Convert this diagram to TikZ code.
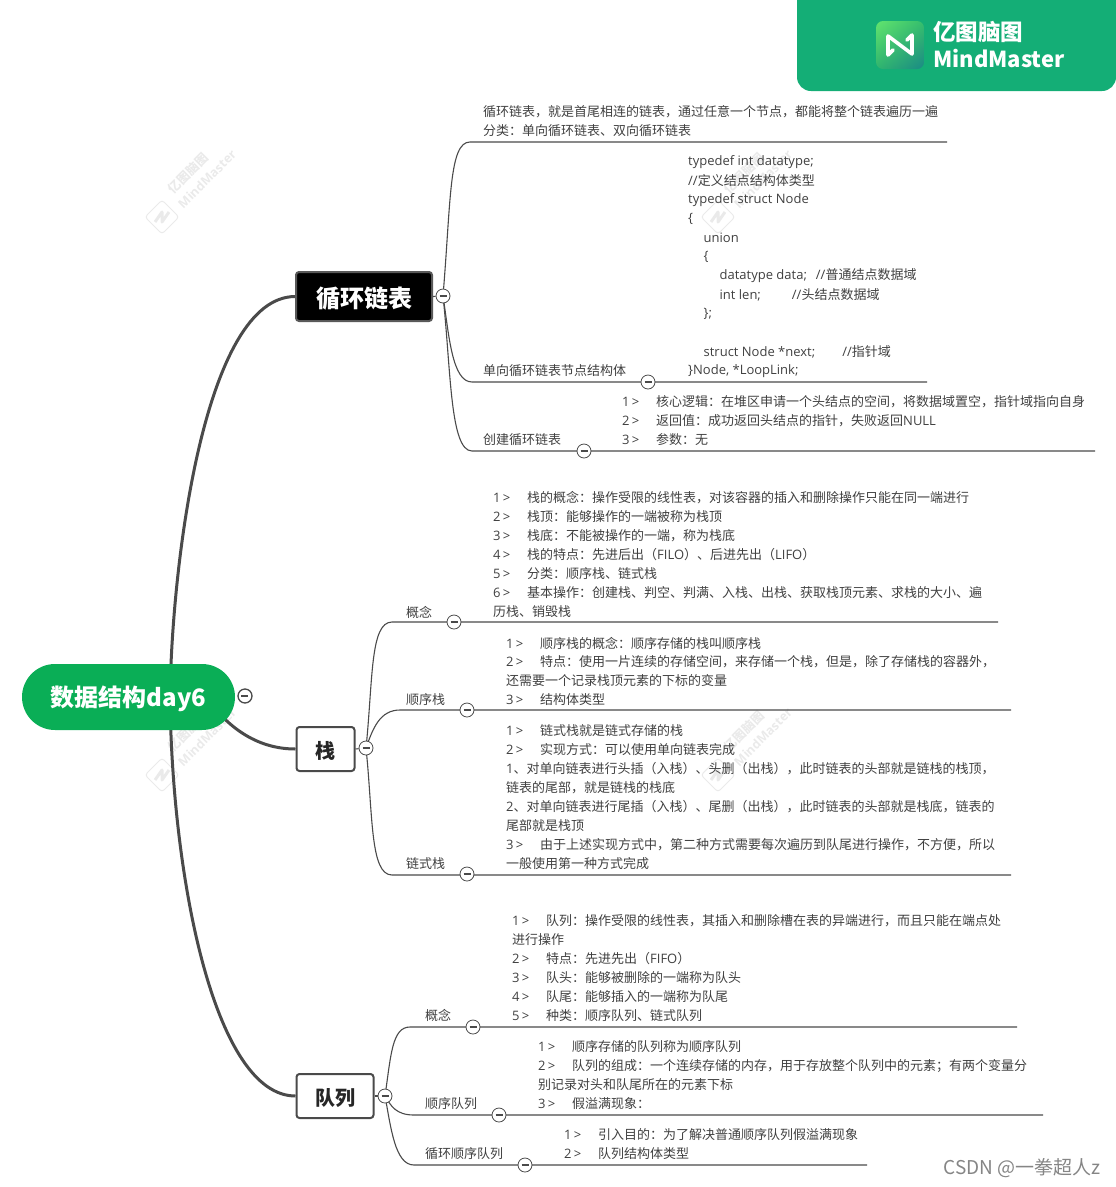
\documentclass[tikz,border=0pt]{standalone}
\usepackage{fontspec}
\usetikzlibrary{shadings}
\setmainfont{Open Sans}
\newfontfamily\cjk{Noto Sans CJK SC}
\newcommand{\cjkr}{\XeTeXinterchartokenstate=0\relax\cjk}
\newcommand{\cjkb}{\XeTeXinterchartokenstate=0\relax\cjk\bfseries}
\XeTeXinterchartokenstate=1
\newXeTeXintercharclass\cjkclass
\count255="2E80
\loop\ifnum\count255<"A000 \XeTeXcharclass\count255=\cjkclass \advance\count255 by 1 \repeat
\count255="FF00
\loop\ifnum\count255<"FFF0 \XeTeXcharclass\count255=\cjkclass \advance\count255 by 1 \repeat
\XeTeXinterchartoks 0 \cjkclass={\cjk}
\XeTeXinterchartoks 4095 \cjkclass={\cjk}
\XeTeXinterchartoks \cjkclass 0={\rmfamily}
\XeTeXinterchartoks \cjkclass 4095={\rmfamily}
\pgfdeclarelayer{bg}
\pgfsetlayers{bg,main}
\definecolor{inkc}{HTML}{404040}
\definecolor{linec}{HTML}{4A4A4A}
\definecolor{rootg}{HTML}{0AAE56}
\definecolor{panelg}{HTML}{14AE76}
\definecolor{wmc}{HTML}{EAEAEA}
\definecolor{icul}{HTML}{62E46E}
\definecolor{icur}{HTML}{35BE6C}
\definecolor{icll}{HTML}{2FB46E}
\definecolor{iclr}{HTML}{1A8A86}
\newcommand{\nm}[1]{\makebox[34pt][l]{#1\,>}}
\newcommand{\lowered}[2][2pt]{\raisebox{-#1}[\height][\depth]{#2}}
\tikzset{
  txt/.style={anchor=west,inner sep=0pt,yshift=-1pt,text=inkc,font=\fontsize{13}{19}\selectfont},
  thick link/.style={draw=linec,line width=3pt},
  thin link/.style={draw=linec,line width=1.1pt},
  btn/.style={circle,draw=linec,fill=white,line width=.8pt,minimum size=14pt,inner sep=0pt,
    path picture={\draw[line width=1.1pt,draw=linec] ([xshift=-3.5pt]path picture bounding box.center)--([xshift=3.5pt]path picture bounding box.center);}},
  topic/.style={rounded corners=3pt,draw=linec,line width=2pt,inner sep=0pt,fill=white,text=black!85,font=\fontsize{20}{24}\selectfont\cjkb},
  wmlogo/.style={draw=wmc,line width=1pt,rounded corners=3pt,minimum size=24pt,rotate=45,inner sep=0pt},
  wmtext/.style={text=wmc,inner sep=0pt,anchor=west,rotate=45,font=\fontsize{12.5}{14}\selectfont\bfseries},
}
\begin{document}
\begin{tikzpicture}[x=1pt,y=-1pt]
\useasboundingbox (0,0) rectangle (1116,1187);
% logo panel
\fill[panelg] (797,0) [rounded corners=14pt] -- (797,91) -- (1116,91) [sharp corners] -- (1116,0) -- cycle;
\shade[rounded corners=7pt,upper left=icul,upper right=icur,lower left=icll,lower right=iclr] (876,21) rectangle (924,69);
\draw[white,line width=3.6pt,line join=round,line cap=round] (893,50)--(888,55)--(888,36)--(912,54)--(912,35)--(907,40);
\node[inner sep=0pt,anchor=west,text=white,font=\fontsize{22.5}{24}\selectfont\cjkb] (brandcn) at (933,32) {亿图脑图};
\node[inner sep=0pt,anchor=west,text=white,font=\fontsize{22}{26}\selectfont\cjkb] (brand) at (933,59) {MindMaster};
% root and topics
\node[rounded corners=33pt,fill=rootg,minimum width=213pt,minimum height=66pt,inner sep=0pt,text=white,font=\fontsize{24}{28}\selectfont\cjkb] (root) at (128.5,697) {\lowered{数据结构day6}};
\node[circle,draw=linec,fill=white,line width=1.3pt,minimum size=14pt,inner sep=0pt] (rootbtn) at (245,696) {};
\draw[line width=1.8pt,draw=linec] (rootbtn.west)++(3.5,0)--++(7,0);
\node[topic,minimum width=136pt,minimum height=49pt,fill=black,text=white,draw=black!65,font=\fontsize{24}{28}\selectfont\cjkb] (loop) at (364,296.5) {\lowered{循环链表}};
\node[topic,minimum width=58pt,minimum height=44pt] (stack) at (325.5,749) {\lowered{栈}};
\node[topic,minimum width=77pt,minimum height=44pt] (queue) at (335,1096) {\lowered{队列}};
\coordinate (rj) at (170,697);
\coordinate (rk) at (205,695);
% buttons
\node[btn] (b0) at (443,296) {};
\node[btn] (b1) at (648,382) {};
\node[btn] (b2) at (584,451) {};
\node[btn] (s0) at (366,748) {};
\node[btn] (s1) at (454,622) {};
\node[btn] (s2) at (467,710) {};
\node[btn] (s3) at (467,874) {};
\node[btn] (q0) at (385,1096) {};
\node[btn] (q1) at (473,1027) {};
\node[btn] (q2) at (499,1115) {};
\node[btn] (q3) at (525,1165) {};
% line ends
\coordinate (ua) at (470,142); \coordinate (ea) at (947,142);
\coordinate (ub) at (472,382); \coordinate (eb) at (927,382);
\coordinate (uc) at (472,451); \coordinate (ec) at (1095,451);
\coordinate (ud) at (392,622); \coordinate (ed) at (998,622);
\coordinate (ue) at (400,710); \coordinate (ee) at (1011,710);
\coordinate (uf) at (392,875); \coordinate (ef) at (1011,875);
\coordinate (ug) at (410,1027); \coordinate (eg) at (1017,1027);
\coordinate (uh) at (414,1115); \coordinate (eh) at (1043,1115);
\coordinate (ui) at (414,1165); \coordinate (ei) at (867,1165);
\begin{pgfonlayer}{bg}
% watermarks
\foreach \wx/\wy/\wn in {0/0/p,556/0/q,0/558/r,556/558/s}{
  \begin{scope}[shift={(\wx,\wy)}]
  \node[wmlogo] (wl\wn) at (162,217) {};
  \draw[wmc,line width=3pt,line join=round] (155,222)--(162,212)--(162,222)--(169,212);
  \node[wmtext] (wa\wn) at (170,191) {亿图脑图};
  \node[wmtext] (wb\wn) at (180,206) {MindMaster};
  \end{scope}
}
\draw[thick link] (rj) .. controls (172,560) and (205,297) .. (loop.west);
\draw[thick link] (rj) .. controls (172,880) and (215,1096) .. (queue.west);
\draw[thick link] (rk) .. controls (225,725) and (255,749) .. (stack.west);
\draw[thin link] (loop.east)--(b0);
\draw[thin link] (stack.east)--(s0);
\draw[thin link] (queue.east)--(q0);
\draw[thin link] (b0.center) .. controls (451,200) and (449,142) .. (ua)--(ea);
\draw[thin link] (b0.center) .. controls (449,335) and (452,382) .. (ub)--(eb);
\draw[thin link] (b0.center) .. controls (451,370) and (450,451) .. (uc)--(ec);
\draw[thin link] (s0.center) .. controls (373,680) and (370,622) .. (ud)--(ed);
\draw[thin link] (s0.center) .. controls (373,728) and (380,710) .. (ue)--(ee);
\draw[thin link] (s0.center) .. controls (373,815) and (370,875) .. (uf)--(ef);
\draw[thin link] (q0.center) .. controls (391,1055) and (392,1027) .. (ug)--(eg);
\draw[thin link] (q0.center) .. controls (391,1106) and (396,1115) .. (uh)--(eh);
\draw[thin link] (q0.center) .. controls (391,1128) and (395,1165) .. (ui)--(ei);
\end{pgfonlayer}
% labels: loop list
\node[txt] (a1) at (483,111) {循环链表，就是首尾相连的链表，通过任意一个节点，都能将整个链表遍历一遍};
\node[txt] (a2) at (483,130) {分类：单向循环链表、双向循环链表};
\node[txt] (c1) at (688,161) {typedef int datatype;};
\node[txt] (c2) at (688,180) {//定义结点结构体类型};
\node[txt] (c3) at (688,199) {typedef struct Node};
\node[txt] (c4) at (688,218) {\{};
\node[txt] (c5) at (703.5,237) {union};
\node[txt] (c6) at (703.5,256) {\{};
\node[txt] (c7) at (719.5,275) {datatype data;\hspace{9pt}//普通结点数据域};
\node[txt] (c8) at (719.5,294) {int len;\hspace{31pt}//头结点数据域};
\node[txt] (c9) at (703.5,313) {\};};
\node[txt] (c10) at (703.5,351) {struct Node *next;\hspace{27pt}//指针域};
\node[txt] (c11) at (688,370) {\}Node, *LoopLink;};
\node[txt] (a3) at (483,370) {单向循环链表节点结构体};
\node[txt] (d1) at (622,401) {\nm{1}核心逻辑：在堆区申请一个头结点的空间，将数据域置空，指针域指向自身};
\node[txt] (d2) at (622,420) {\nm{2}返回值：成功返回头结点的指针，失败返回NULL};
\node[txt] (d3) at (622,439) {\nm{3}参数：无};
\node[txt] (a4) at (483,439) {创建循环链表};
% stack
\node[txt] (l1) at (406,611) {概念};
\node[txt] (l2) at (406,699) {顺序栈};
\node[txt] (l3) at (406,863) {链式栈};
\node[txt] (e1) at (493,497) {\nm{1}栈的概念：操作受限的线性表，对该容器的插入和删除操作只能在同一端进行};
\node[txt] (e2) at (493,516) {\nm{2}栈顶：能够操作的一端被称为栈顶};
\node[txt] (e3) at (493,535) {\nm{3}栈底：不能被操作的一端，称为栈底};
\node[txt] (e4) at (493,554) {\nm{4}栈的特点：先进后出（FILO）、后进先出（LIFO）};
\node[txt] (e5) at (493,573) {\nm{5}分类：顺序栈、链式栈};
\node[txt] (e6) at (493,592) {\nm{6}基本操作：创建栈、判空、判满、入栈、出栈、获取栈顶元素、求栈的大小、遍};
\node[txt] (e7) at (493,611) {历栈、销毁栈};
\node[txt] (f1) at (506,642) {\nm{1}顺序栈的概念：顺序存储的栈叫顺序栈};
\node[txt] (f2) at (506,661) {\nm{2}特点：使用一片连续的存储空间，来存储一个栈，但是，除了存储栈的容器外，};
\node[txt] (f3) at (506,680) {还需要一个记录栈顶元素的下标的变量};
\node[txt] (f4) at (506,699) {\nm{3}结构体类型};
\node[txt] (g1) at (506,730) {\nm{1}链式栈就是链式存储的栈};
\node[txt] (g2) at (506,749) {\nm{2}实现方式：可以使用单向链表完成};
\node[txt] (g3) at (506,768) {1、对单向链表进行头插（入栈）、头删（出栈），此时链表的头部就是链栈的栈顶，};
\node[txt] (g4) at (506,787) {链表的尾部，就是链栈的栈底};
\node[txt] (g5) at (506,806) {2、对单向链表进行尾插（入栈）、尾删（出栈），此时链表的头部就是栈底，链表的};
\node[txt] (g6) at (506,825) {尾部就是栈顶};
\node[txt] (g7) at (506,844) {\nm{3}由于上述实现方式中，第二种方式需要每次遍历到队尾进行操作，不方便，所以};
\node[txt] (g8) at (506,863) {一般使用第一种方式完成};
% queue
\node[txt] (l4) at (425,1014) {概念};
\node[txt] (l5) at (425,1103) {顺序队列};
\node[txt] (l6) at (425,1153) {循环顺序队列};
\node[txt] (h1) at (512,920) {\nm{1}队列：操作受限的线性表，其插入和删除槽在表的异端进行，而且只能在端点处};
\node[txt] (h2) at (512,939) {进行操作};
\node[txt] (h3) at (512,958) {\nm{2}特点：先进先出（FIFO）};
\node[txt] (h4) at (512,977) {\nm{3}队头：能够被删除的一端称为队头};
\node[txt] (h5) at (512,996) {\nm{4}队尾：能够插入的一端称为队尾};
\node[txt] (h6) at (512,1015) {\nm{5}种类：顺序队列、链式队列};
\node[txt] (i1) at (538,1046) {\nm{1}顺序存储的队列称为顺序队列};
\node[txt] (i2) at (538,1065) {\nm{2}队列的组成：一个连续存储的内存，用于存放整个队列中的元素；有两个变量分};
\node[txt] (i3) at (538,1084) {别记录对头和队尾所在的元素下标};
\node[txt] (i4) at (538,1103) {\nm{3}假溢满现象：};
\node[txt] (j1) at (564,1134) {\nm{1}引入目的：为了解决普通顺序队列假溢满现象};
\node[txt] (j2) at (564,1153) {\nm{2}队列结构体类型};
\node[anchor=east,inner sep=0pt,text=black!48,font=\fontsize{19}{20}\selectfont\cjkr] (csdn) at (1101,1168) {CSDN @一拳超人z};
\end{tikzpicture}
\end{document}
